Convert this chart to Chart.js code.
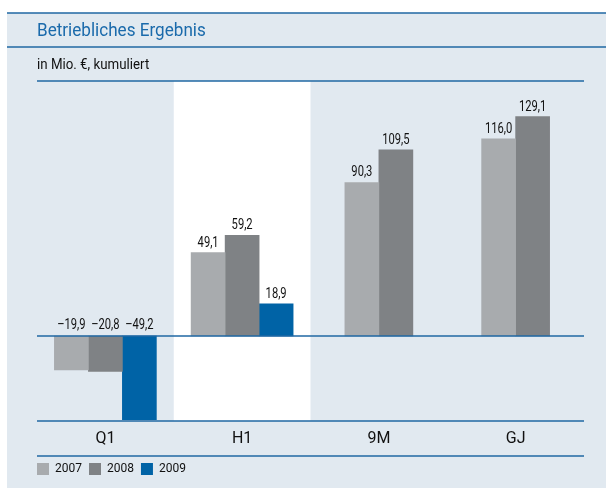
<!DOCTYPE html>
<html>
<head>
<meta charset="utf-8">
<script src="https://cdn.jsdelivr.net/npm/chart.js@4/dist/chart.umd.min.js"></script>
<style>
  body { margin: 0; background: #fff; }
</style>
</head>
<body>
<canvas id="chart" width="606" height="488"></canvas>
<script>
// Betriebliches Ergebnis, in Mio. €, kumuliert
const categories = ['Q1', 'H1', '9M', 'GJ'];
const years = ['2007', '2008', '2009'];
const values2007 = [-19.9, 49.1, 90.3, 116.0];
const values2008 = [-20.8, 59.2, 109.5, 129.1];
const values2009 = [-49.2, 18.9, null, null];
const barColors = ['#a8abae', '#7f8285', '#0063a6'];

const titleText = 'Betriebliches Ergebnis';
const subtitleText = 'in Mio. €, kumuliert';
const highlightIndex = 1; // H1 column on white

const panelColor = '#e1e9f0';
const lineColor = '#1f67a3';

function formatValue(v) {
    const s = Math.abs(v).toFixed(1).replace('.', ',');
    return v < 0 ? '\u2013' + s : s;
}

function hLine(ctx, x1, x2, y) {
    ctx.beginPath();
    ctx.moveTo(x1, y);
    ctx.lineTo(x2, y);
    ctx.stroke();
}

// condensed look: squeeze the text horizontally
function narrowText(ctx, text, x, y, squeeze) {
    ctx.save();
    ctx.translate(x, y);
    ctx.scale(squeeze, 1);
    ctx.fillText(text, 0, 0);
    ctx.restore();
}

const framePlugin = {
    id: 'frame',
    beforeDraw(chart) {
        const ctx = chart.ctx;
        const area = chart.chartArea;
        const x = chart.scales.x;
        const y = chart.scales.y;
        ctx.save();
        ctx.fillStyle = panelColor;
        ctx.fillRect(7, 13, chart.width - 7, chart.height - 13);

        // white band behind the highlighted column
        const colW = (area.right - area.left) / categories.length;
        const cx = x.getPixelForValue(highlightIndex);
        ctx.fillStyle = '#ffffff';
        ctx.fillRect(cx - colW / 2, area.top, colW, area.bottom - area.top);

        ctx.strokeStyle = lineColor;
        ctx.lineWidth = 1.5;
        hLine(ctx, 7, chart.width, 13);
        hLine(ctx, 7, chart.width, 47);
        hLine(ctx, area.left, area.right, area.top);
        hLine(ctx, area.left, area.right, y.bottom);
        hLine(ctx, area.left, area.right, x.bottom);

        ctx.textBaseline = 'alphabetic';
        ctx.textAlign = 'left';
        ctx.fillStyle = '#1a6aab';
        ctx.font = "18px Roboto, sans-serif";
        narrowText(ctx, titleText, 37, 36, 0.95);
        ctx.fillStyle = '#111';
        ctx.font = "14px Roboto, sans-serif";
        narrowText(ctx, subtitleText, 37, 69, 0.95);
        ctx.restore();
    },
    afterDatasetsDraw(chart) {
        const ctx = chart.ctx;
        const area = chart.chartArea;
        const zeroY = chart.scales.y.getPixelForValue(0);
        ctx.save();
        ctx.strokeStyle = lineColor;
        ctx.lineWidth = 1.5;
        hLine(ctx, area.left, area.right, zeroY);

        ctx.fillStyle = '#111';
        ctx.font = "14px Roboto, sans-serif";
        ctx.textAlign = 'center';
        ctx.textBaseline = 'alphabetic';
        chart.data.datasets.forEach((ds, i) => {
            const meta = chart.getDatasetMeta(i);
            meta.data.forEach((bar, j) => {
                const v = ds.data[j];
                if (v === null || v === undefined) return;
                const ty = v >= 0 ? bar.y - 6 : zeroY - 7;
                narrowText(ctx, formatValue(v), bar.x, ty, 0.8);
            });
        });
        ctx.restore();
    }
};

new Chart(document.getElementById('chart'), {
    type: 'bar',
    data: {
        labels: categories,
        datasets: [
            { label: years[0], data: values2007, backgroundColor: barColors[0] },
            { label: years[1], data: values2008, backgroundColor: barColors[1] },
            { label: years[2], data: values2009, backgroundColor: barColors[2] }
        ]
    },
    options: {
        responsive: false,
        animation: false,
        skipNull: true,
        barThickness: 34,
        borderWidth: 0,
        layout: { padding: { left: 30, right: 22, top: 81, bottom: 3 } },
        scales: {
            x: {
                grid: { display: false, drawTicks: false },
                border: { display: false },
                ticks: {
                    padding: 8,
                    color: '#111',
                    font: { family: 'Roboto, sans-serif', size: 16 }
                },
                afterFit(scale) { scale.height = 35; }
            },
            y: {
                min: -50,
                max: 150,
                grid: { display: false, drawTicks: false },
                border: { display: false },
                ticks: { display: false },
                afterFit(scale) { scale.width = 7; }
            }
        },
        plugins: {
            legend: {
                position: 'bottom',
                align: 'start',
                labels: {
                    boxWidth: 12,
                    boxHeight: 12,
                    padding: 7,
                    color: '#111',
                    font: { family: 'Roboto, sans-serif', size: 12 }
                }
            },
            tooltip: { enabled: false }
        }
    },
    plugins: [framePlugin]
});
</script>
</body>
</html>
